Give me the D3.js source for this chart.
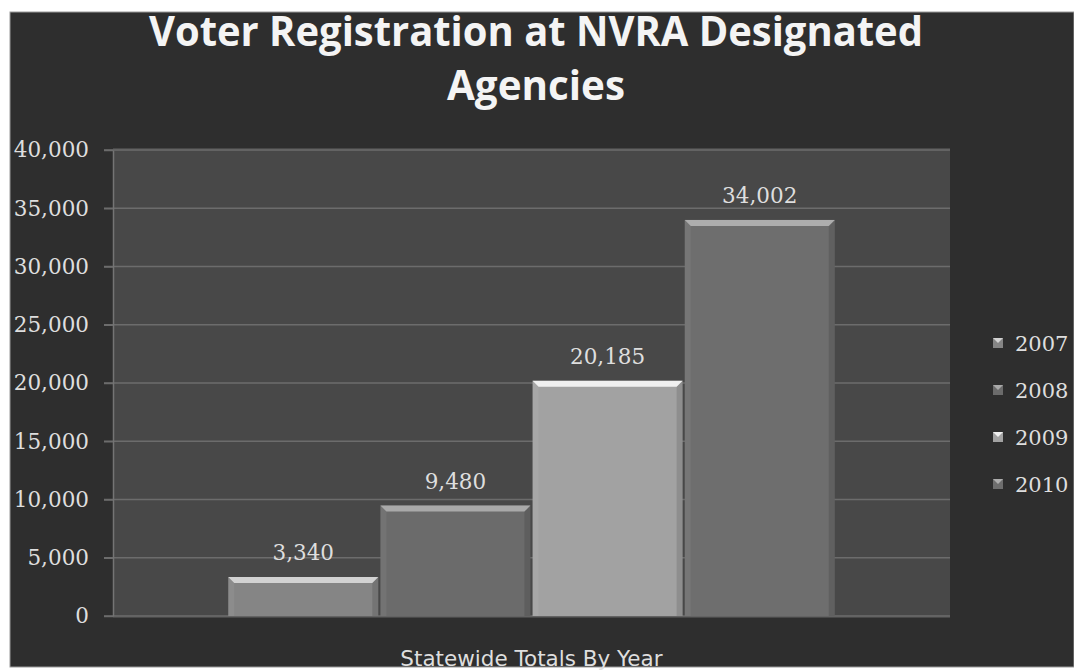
<!DOCTYPE html>
<html>
<head>
<meta charset="utf-8">
<script src="https://cdn.jsdelivr.net/npm/d3@7/dist/d3.min.js"></script>
<style>
  body { margin: 0; background: #fff; }
  .tick text, .label, .legend text { font-family: "DejaVu Serif", serif; fill: #dedede; }
</style>
</head>
<body>
<div id="chart"></div>
<script>
// data
var categories = ["Statewide Totals By Year"];
var years = ["2007", "2008", "2009", "2010"];
var values = [3340, 9480, 20185, 34002];
var yTicks = [0, 5000, 10000, 15000, 20000, 25000, 30000, 35000, 40000];
var titleLines = ["Voter Registration at NVRA Designated", "Agencies"];

var W = 1074, H = 670;
var frame = {left: 10, top: 12, right: 1074, bottom: 667};
var plot = {left: 113, right: 950, top: 148, bottom: 618};
var yRange = [616, 150];

var barColor = d3.scaleOrdinal().domain(years).range(["#858585", "#6b6b6b", "#a2a2a2", "#6e6e6e"]);
var bevelColor = d3.scaleOrdinal().domain(years).range(["#d2d2d2", "#a9a9a9", "#f0f0f0", "#adadad"]);

var svg = d3.select("#chart").append("svg")
    .attr("width", W)
    .attr("height", H);

svg.append("rect")
    .attr("x", frame.left).attr("y", frame.top)
    .attr("width", frame.right - frame.left).attr("height", frame.bottom - frame.top)
    .attr("fill", "#2e2e2e")
    .attr("stroke", "#9a9a9a").attr("stroke-width", 1);

svg.append("rect")
    .attr("x", plot.left).attr("y", plot.top)
    .attr("width", plot.right - plot.left).attr("height", plot.bottom - plot.top)
    .attr("fill", "#484848");

// title
var title = svg.append("g").attr("class", "title");
var titleWidths = [774, 178];
title.selectAll("text")
    .data(titleLines)
    .enter()
    .append("text")
    .attr("x", 536)
    .attr("y", function(d, i) {return 46 + i * 54;})
    .attr("text-anchor", "middle")
    .attr("textLength", function(d, i) {return titleWidths[i];})
    .attr("lengthAdjust", "spacingAndGlyphs")
    .style("font-family", "'Open Sans', sans-serif")
    .style("font-weight", 700)
    .style("font-size", "42px")
    .style("fill", "#f4f4f4")
    .text(function(d) {return d;});

var yScale = d3.scaleLinear().domain([0, 40000]).range(yRange);

var x0 = d3.scaleBand()
    .domain(categories)
    .range([plot.left, plot.right])
    .paddingInner(0)
    .paddingOuter(0.19);

var x1 = d3.scaleBand()
    .domain(years)
    .range([0, x0.bandwidth()])
    .paddingInner(0.014);

// gridlines
svg.append("g").selectAll("line")
    .data(yTicks)
    .enter()
    .append("line")
    .attr("x1", plot.left - 9)
    .attr("x2", plot.right)
    .attr("y1", function(d) {return yScale(d);})
    .attr("y2", function(d) {return yScale(d);})
    .attr("stroke", "#6c6c6c")
    .attr("stroke-width", 1.5);

// y axis
var yAxis = svg.append("g")
    .attr("transform", "translate(" + plot.left + ",0)")
    .call(d3.axisLeft(yScale).tickValues(yTicks).tickSizeInner(9).tickSizeOuter(0).tickPadding(15).tickFormat(d3.format(",")));
yAxis.select(".domain").attr("stroke", "#747474").attr("stroke-width", 1.5);
yAxis.selectAll(".tick line").attr("stroke", "#6c6c6c").attr("stroke-width", 1.5);
yAxis.selectAll(".tick text").style("font-size", "21.5px").style("fill", "#dedede");

// bars
var bars = svg.append("g")
    .attr("transform", "translate(" + x0(categories[0]) + ",0)");

var barData = years.map(function(y, i) {return {year: y, value: values[i]};});
var bev = 6;

var bar = bars.selectAll("g.bar")
    .data(barData)
    .enter()
    .append("g")
    .attr("class", "bar");

bar.append("rect")
    .attr("x", function(d) {return x1(d.year);})
    .attr("y", function(d) {return yScale(d.value);})
    .attr("width", x1.bandwidth())
    .attr("height", function(d) {return yScale(0) - yScale(d.value);})
    .attr("fill", function(d) {return barColor(d.year);});

// side shading
bar.append("path")
    .attr("d", function(d) {
        var x = x1(d.year), w = x1.bandwidth(), t = yScale(d.value), b = yScale(0);
        return "M" + (x + w) + "," + t + "L" + (x + w - bev) + "," + (t + bev) + "L" + (x + w - bev) + "," + b + "L" + (x + w) + "," + b + "Z";
    })
    .attr("fill", "#000").attr("opacity", 0.12);

bar.append("path")
    .attr("d", function(d) {
        var x = x1(d.year), t = yScale(d.value), b = yScale(0);
        return "M" + x + "," + t + "L" + (x + bev) + "," + (t + bev) + "L" + (x + bev) + "," + b + "L" + x + "," + b + "Z";
    })
    .attr("fill", "#fff").attr("opacity", 0.06);

// top bevel
bar.append("path")
    .attr("d", function(d) {
        var x = x1(d.year), w = x1.bandwidth(), t = yScale(d.value);
        return "M" + x + "," + t + "L" + (x + w) + "," + t + "L" + (x + w - bev) + "," + (t + bev) + "L" + (x + bev) + "," + (t + bev) + "Z";
    })
    .attr("fill", function(d) {return bevelColor(d.year);});

// data labels
bar.append("text")
    .attr("class", "label")
    .attr("x", function(d) {return x1(d.year) + x1.bandwidth() / 2;})
    .attr("y", function(d) {return yScale(d.value) - 17;})
    .attr("text-anchor", "middle")
    .style("font-size", "21.5px")
    .text(function(d) {return d3.format(",")(d.value);});

// category axis title
svg.append("text")
    .attr("x", x0(categories[0]) + x0.bandwidth() / 2)
    .attr("y", 666)
    .attr("text-anchor", "middle")
    .style("font-family", "'DejaVu Sans', sans-serif")
    .style("font-size", "21.5px")
    .style("fill", "#dedede")
    .text(categories[0]);

// legend
var legend = svg.append("g").attr("class", "legend");
var lg = legend.selectAll("g")
    .data(years)
    .enter()
    .append("g")
    .attr("transform", function(d, i) {return "translate(993," + (343 + i * 47) + ")";});

lg.append("rect")
    .attr("x", 0).attr("y", -5)
    .attr("width", 10).attr("height", 10)
    .attr("fill", function(d) {return barColor(d);});
lg.append("path")
    .attr("d", "M0,-5L10,-5L5,0Z")
    .attr("fill", function(d) {return bevelColor(d);});
lg.append("text")
    .attr("x", 22)
    .attr("y", 0)
    .attr("dy", "0.36em")
    .style("font-size", "21px")
    .text(function(d) {return d;});
</script>
</body>
</html>
